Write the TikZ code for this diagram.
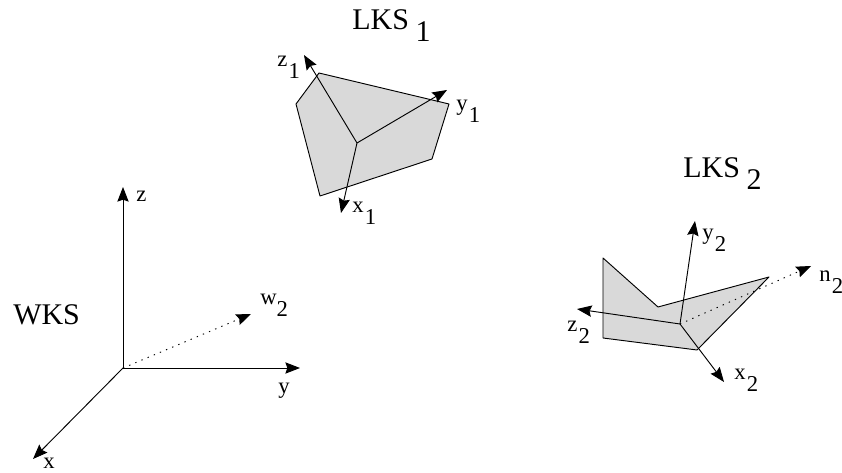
\documentclass[tikz,border=0pt]{standalone}
\usepackage{fontspec}
\setmainfont{Liberation Serif}
\usetikzlibrary{arrows.meta}
\newcommand{\low}[1]{\kern1pt\lower8.5pt\hbox{#1}}
\newcommand{\lowbig}[1]{\kern5pt\lower9pt\hbox{#1}}
\tikzset{
  >={Stealth[length=11pt,width=8.5pt,inset=1.5pt]},
  axis/.style   = {->, line width=0.7pt},
  normal/.style = {->, line width=0.7pt, dash pattern=on 1pt off 4pt},
  patch/.style  = {draw, line width=0.7pt, fill=black!15, line join=round},
  lab/.style    = {anchor=base west, inner sep=0pt, font=\fontsize{17}{19}\selectfont},
  title/.style  = {anchor=base west, inner sep=0pt, font=\fontsize{22.5}{24}\selectfont},
}
\begin{document}
\begin{tikzpicture}[x=0.75pt, y=-0.75pt]
  \useasboundingbox (0,0) rectangle (842,473);

  % world frame
  \coordinate (o) at (123,368);
  \coordinate (wz) at (123,187);
  \coordinate (wy) at (300,368);
  \coordinate (wx) at (33,459);
  \coordinate (ww) at (251,314);
  \draw[normal] (o) -- (ww);
  \foreach \b in {wz, wy, wx}
    \draw[axis] (o) -- (\b);
  \node[title] (wks) at (13,325) {WKS};
  \node[lab] (lz) at (136,202) {z};
  \node[lab] (ly) at (278,394) {y};
  \node[lab] (lx) at (43,469) {x};
  \node[lab] (lw) at (260,305) {w\kern-1pt\low{2}};

  % first patch
  \draw[patch] (319,73) -- (296,104) -- (320,196) -- (432,159) -- (449,104) -- cycle;
  \coordinate (c1) at (357,143);
  \coordinate (z1) at (304,55);
  \coordinate (y1) at (447,90);
  \coordinate (x1) at (341,213);
  \foreach \b in {z1, y1, x1}
    \draw[axis] (c1) -- (\b);
  \node[title] (lks1) at (352,30) {LKS\lowbig{1}};
  \node[lab] (lz1) at (277,67) {z\low{1}};
  \node[lab] (ly1) at (456,111) {y\low{1}};
  \node[lab] (lx1) at (352,213) {x\low{1}};

  % second patch
  \draw[patch] (603,258) -- (658,307) -- (769,277) -- (697,350) -- (603,338) -- cycle;
  \coordinate (c2) at (680,324);
  \coordinate (y2) at (695,221);
  \coordinate (z2) at (577,309);
  \coordinate (x2) at (724,382);
  \coordinate (n2) at (811,266);
  \draw[normal] (c2) -- (n2);
  \foreach \b in {y2, z2, x2}
    \draw[axis] (c2) -- (\b);
  \node[title] (lks2) at (683,178) {LKS\lowbig{2}};
  \node[lab] (ly2) at (702,240) {y\low{2}};
  \node[lab] (ln2) at (819,282) {n\low{2}};
  \node[lab] (lz2) at (567,332) {z\low{2}};
  \node[lab] (lx2) at (734,380) {x\low{2}};
\end{tikzpicture}
\end{document}
